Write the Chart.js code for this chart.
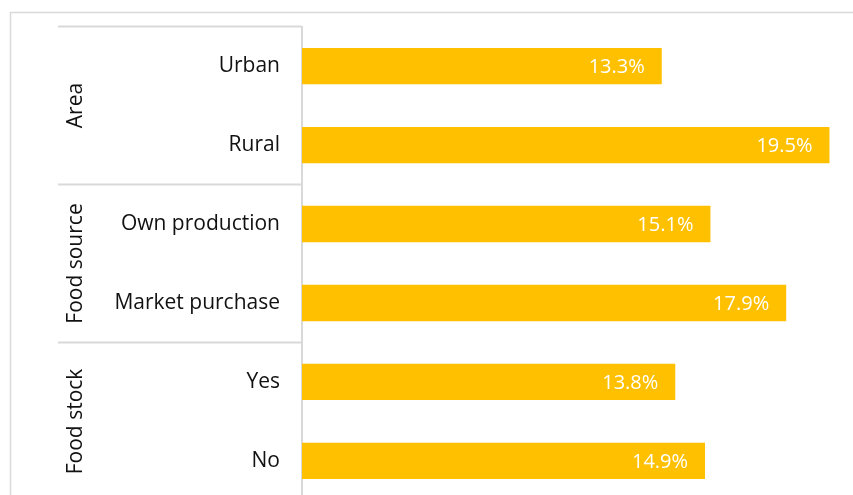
<!DOCTYPE html>
<html>
<head>
<meta charset="utf-8">
<title>Bar chart</title>
<script src="https://cdn.jsdelivr.net/npm/chart.js@4/dist/chart.umd.min.js"></script>
<style>
  html, body { margin: 0; padding: 0; background: #fff; overflow: hidden; }
  #wrap { position: relative; width: 853px; height: 495px; overflow: hidden; }
  canvas { position: absolute; left: 0; top: 0; }
</style>
</head>
<body>
<div id="wrap"><canvas id="chart" width="853" height="527"></canvas></div>
<script>
// rows, top to bottom
var categories = ['Urban', 'Rural', 'Own production', 'Market purchase', 'Yes', 'No'];
var values = [13.3, 19.5, 15.1, 17.9, 13.8, 14.9];
// outer grouping of the rows
var groups = ['Area', 'Food source', 'Food stock'];
var groupSizes = [2, 2, 2];

var FONT = '"Open Sans", "Noto Sans", sans-serif';
var LINE = '#d9d9d9';

// frame, group dividers, group names and value labels
var extras = {
    id: 'extras',
    afterDraw: function (chart) {
        var ctx = chart.ctx;
        var y = chart.scales.y;
        ctx.save();

        ctx.strokeStyle = LINE;
        ctx.lineWidth = 1.5;
        ctx.strokeRect(10.5, 12.5, 900, 600);

        // dividers + rotated group names
        ctx.lineWidth = 2;
        var start = 0;
        for (var g = 0; g <= groups.length; g++) {
            var yy = y.getPixelForValue(start - 0.5);
            ctx.beginPath();
            ctx.moveTo(58, yy);
            ctx.lineTo(301, yy);
            ctx.stroke();
            if (g < groups.length) {
                var end = start + groupSizes[g];
                var mid = (y.getPixelForValue(start - 0.5) + y.getPixelForValue(end - 0.5)) / 2;
                ctx.save();
                ctx.translate(76, mid);
                ctx.rotate(-Math.PI / 2);
                ctx.fillStyle = '#111';
                ctx.font = '21px ' + FONT;
                ctx.textAlign = 'center';
                ctx.textBaseline = 'middle';
                ctx.fillText(groups[g], 0, 0);
                ctx.restore();
                start = end;
            }
        }

        // value labels at the inner end of each bar
        var meta = chart.getDatasetMeta(0);
        ctx.fillStyle = '#fff';
        ctx.font = '20px ' + FONT;
        ctx.textAlign = 'right';
        ctx.textBaseline = 'middle';
        meta.data.forEach(function (bar, i) {
            ctx.fillText(values[i].toFixed(1) + '%', bar.x - 17, bar.y + 1);
        });
        ctx.restore();
    }
};

new Chart(document.getElementById('chart'), {
    type: 'bar',
    data: {
        labels: categories,
        datasets: [{
            data: values,
            backgroundColor: '#FFC000',
            borderWidth: 0,
            categoryPercentage: 1,
            barPercentage: 0.46
        }]
    },
    options: {
        indexAxis: 'y',
        responsive: false,
        animation: false,
        events: [],
        layout: { padding: { top: 17, bottom: 5, left: 0, right: 10 } },
        plugins: { legend: { display: false }, tooltip: { enabled: false } },
        scales: {
            x: { display: false, min: 0, max: 20 },
            y: {
                grid: { display: false },
                border: { display: true, color: LINE, width: 2 },
                ticks: {
                    color: '#111',
                    padding: 14,
                    font: { family: FONT, size: 21 }
                },
                afterFit: function (scale) { scale.width = 302; }
            }
        }
    },
    plugins: [extras]
});
</script>
</body>
</html>
